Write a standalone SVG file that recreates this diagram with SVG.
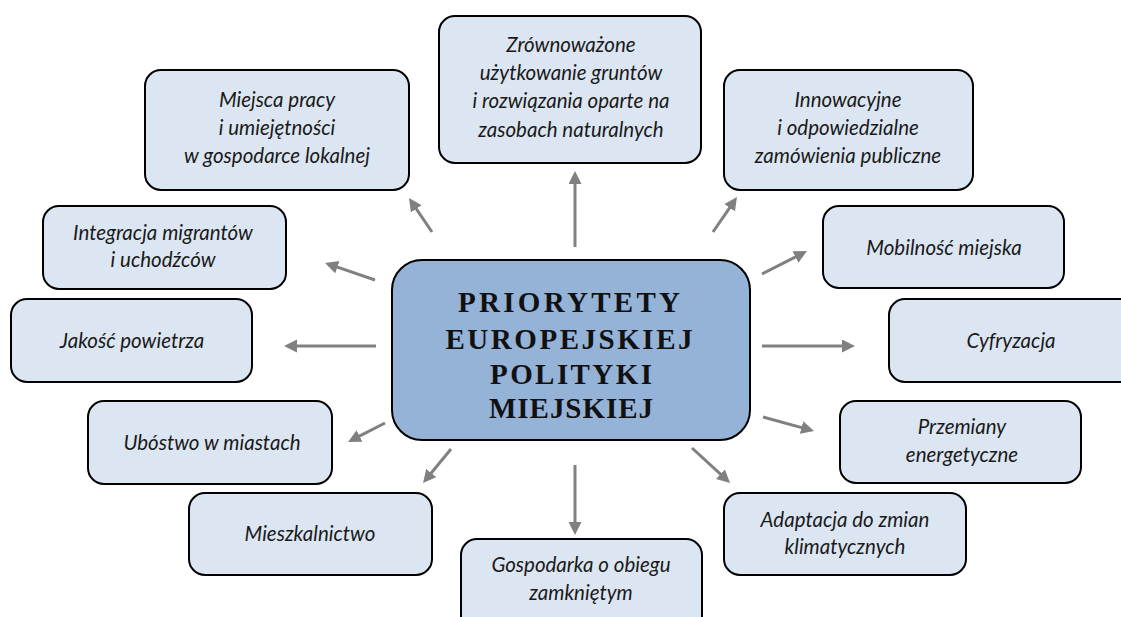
<svg xmlns="http://www.w3.org/2000/svg" width="1121" height="617" viewBox="0 0 1121 617">
<style>
.box{fill:#dce6f2;stroke:#000;stroke-width:2}
.t{font-family:Lato,"Open Sans","Liberation Sans",sans-serif;font-style:italic;font-size:20.5px;fill:#1a1a1a;text-anchor:middle}
.c{font-family:"Liberation Serif","DejaVu Serif",serif;font-weight:bold;font-size:29px;fill:#111;text-anchor:middle}
.a{stroke:#808080;stroke-width:3;fill:none;marker-end:url(#ah)}
</style>
<defs>
<marker id="ah" markerUnits="userSpaceOnUse" markerWidth="14" markerHeight="14" refX="3" refY="6.5" orient="auto">
<path d="M0,0 L13,6.5 L0,13 z" fill="#808080"/>
</marker>
</defs>
<rect width="1121" height="617" fill="#fff"/>
<g id="connectors">
<line class="a" x1="575" y1="247" x2="575" y2="181"/>
<line class="a" x1="432" y1="232" x2="414.6" y2="206.3"/>
<line class="a" x1="713" y1="232" x2="731.3" y2="205.3"/>
<line class="a" x1="375" y1="280" x2="334.5" y2="266.2"/>
<line class="a" x1="762" y1="274" x2="798.1" y2="255.6"/>
<line class="a" x1="376" y1="346" x2="294" y2="346"/>
<line class="a" x1="762" y1="346" x2="845" y2="346"/>
<line class="a" x1="385" y1="423" x2="356.9" y2="437.4"/>
<line class="a" x1="763" y1="417" x2="804.4" y2="428.4"/>
<line class="a" x1="451" y1="449" x2="429.4" y2="475.3"/>
<line class="a" x1="692" y1="448" x2="722.7" y2="476.2"/>
<line class="a" x1="575" y1="465" x2="575" y2="525"/>
</g>
<g id="center">
<rect x="392" y="260" width="358" height="180" rx="30" fill="#95b3d7" stroke="#000" stroke-width="2"/>
<text class="c" x="569" y="312" textLength="222" lengthAdjust="spacing">PRIORYTETY</text>
<text class="c" x="569" y="349" textLength="247" lengthAdjust="spacing">EUROPEJSKIEJ</text>
<text class="c" x="571" y="384" textLength="162" lengthAdjust="spacing">POLITYKI</text>
<text class="c" x="571" y="418" textLength="164" lengthAdjust="spacing">MIEJSKIEJ</text>
</g>
<g id="n-grunty">
<rect class="box" x="439" y="16" width="262" height="147" rx="16"/>
<text class="t" x="571" y="52">Zrównoważone</text>
<text class="t" x="571" y="80">użytkowanie gruntów</text>
<text class="t" x="571" y="108">i rozwiązania oparte na</text>
<text class="t" x="571" y="137">zasobach naturalnych</text>
</g>
<g id="n-praca">
<rect class="box" x="145" y="70" width="264" height="120" rx="16"/>
<text class="t" x="277" y="107">Miejsca pracy</text>
<text class="t" x="277" y="135">i umiejętności</text>
<text class="t" x="277" y="163">w gospodarce lokalnej</text>
</g>
<g id="n-zamowienia">
<rect class="box" x="724" y="70" width="249" height="120" rx="16"/>
<text class="t" x="848" y="107">Innowacyjne</text>
<text class="t" x="848" y="135">i odpowiedzialne</text>
<text class="t" x="848" y="163">zamówienia publiczne</text>
</g>
<g id="n-integracja">
<rect class="box" x="43" y="206" width="243" height="83" rx="16"/>
<text class="t" x="163" y="240">Integracja migrantów</text>
<text class="t" x="163" y="267">i uchodźców</text>
</g>
<g id="n-mobilnosc">
<rect class="box" x="823" y="206" width="241" height="82" rx="16"/>
<text class="t" x="944" y="255">Mobilność miejska</text>
</g>
<g id="n-powietrze">
<rect class="box" x="11" y="299" width="241" height="83" rx="16"/>
<text class="t" x="132" y="348">Jakość powietrza</text>
</g>
<g id="n-cyfryzacja">
<rect class="box" x="889" y="299" width="252" height="83" rx="16"/>
<text class="t" x="1011" y="348">Cyfryzacja</text>
</g>
<g id="n-ubostwo">
<rect class="box" x="88" y="401" width="244" height="83" rx="16"/>
<text class="t" x="212" y="450">Ubóstwo w miastach</text>
</g>
<g id="n-energia">
<rect class="box" x="840" y="401" width="241" height="82" rx="16"/>
<text class="t" x="962" y="434">Przemiany</text>
<text class="t" x="962" y="462">energetyczne</text>
</g>
<g id="n-mieszkalnictwo">
<rect class="box" x="189" y="493" width="243" height="82" rx="16"/>
<text class="t" x="310" y="541">Mieszkalnictwo</text>
</g>
<g id="n-adaptacja">
<rect class="box" x="724" y="493" width="242" height="82" rx="16"/>
<text class="t" x="845" y="527">Adaptacja do zmian</text>
<text class="t" x="845" y="554">klimatycznych</text>
</g>
<g id="n-gospodarka">
<rect class="box" x="461" y="539" width="241" height="100" rx="16"/>
<text class="t" x="581" y="572">Gospodarka o obiegu</text>
<text class="t" x="581" y="600">zamkniętym</text>
</g>
</svg>
